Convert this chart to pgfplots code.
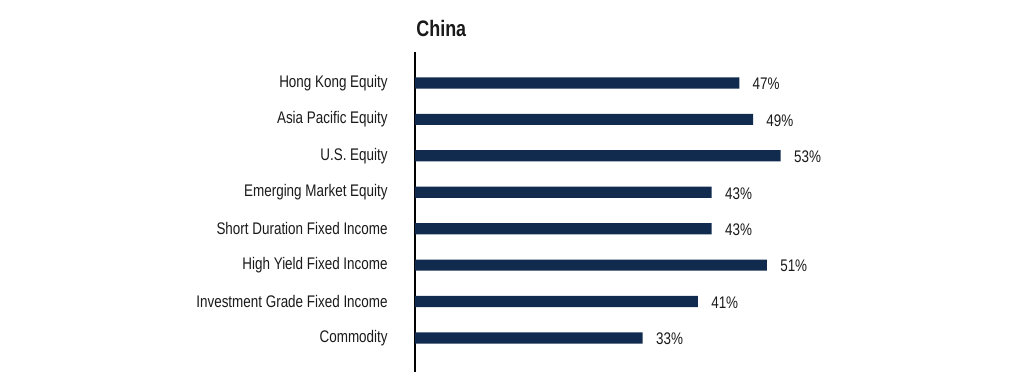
\documentclass[border=0pt]{standalone}
\usepackage{fontspec}
\setmainfont[FakeStretch=0.8]{Liberation Sans}
\usepackage{pgfplots}
\pgfplotsset{compat=1.18}
\definecolor{barnavy}{HTML}{112B4E}
\definecolor{txt}{HTML}{1A1A1A}
\begin{document}
\begin{tikzpicture}
\useasboundingbox (0,0) rectangle (512pt,195.5pt);
\begin{axis}[
  at={(207.5pt,9.5pt)}, anchor=south west,
  scale only axis, width=207pt, height=160pt,
  xmin=0, xmax=60, ymin=-0.934, ymax=7.85,
  xbar, bar width=5.6pt,
  axis y line=left, y axis line style={-, line width=0.8pt, black},
  axis x line=none,
  ytick={0,...,7},
  yticklabels={Commodity,Investment Grade Fixed Income,High Yield Fixed Income,Short Duration Fixed Income,Emerging Market Equity,U.S. Equity,Asia Pacific Equity,Hong Kong Equity},
  major tick length=0pt,
  yticklabel style={font=\fontsize{8.4pt}{10pt}\selectfont, text=txt, anchor=east, inner sep=0pt, xshift=-13.5pt},
  /pgf/number format/assume math mode=true,
  nodes near coords={\pgfmathprintnumber[assume math mode=true]{\pgfplotspointmeta}\%},
  nodes near coords style={font=\fontsize{8.4pt}{10pt}\selectfont, text=txt, anchor=west, inner sep=0pt, xshift=6.5pt, yshift=-0.5pt},
  point meta=x,
  clip=false,
]
\addplot[fill=barnavy, draw=none] coordinates {
(33,0) (41,1) (51,2) (43,3) (43,4) (53,5) (49,6) (47,7)};
\end{axis}
\node[anchor=west, inner sep=0pt, font=\bfseries\fontsize{11.2pt}{13pt}\selectfont, text=txt] at (208pt,181.5pt) {China};
\end{tikzpicture}
\end{document}
